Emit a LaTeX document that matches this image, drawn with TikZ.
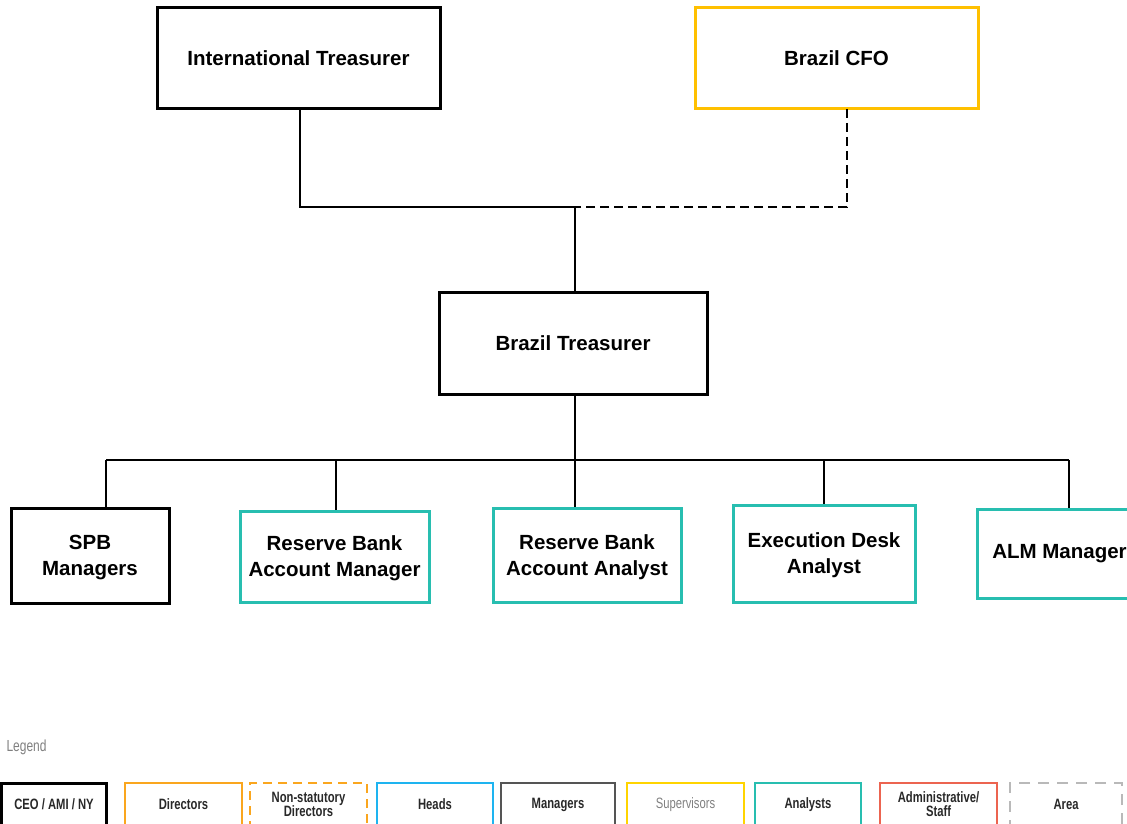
\documentclass[tikz,border=0pt]{standalone}
\usepackage{fontspec}
\setmainfont{Liberation Sans}
\newfontfamily\narrowfont[FakeStretch=0.75]{Liberation Sans}
\definecolor{cfogold}{RGB}{255,192,0}
\definecolor{tealc}{RGB}{40,190,176}
\definecolor{dirorange}{RGB}{250,166,30}
\definecolor{headblue}{RGB}{30,180,240}
\definecolor{mgrgray}{RGB}{85,85,85}
\definecolor{supyellow}{RGB}{255,212,0}
\definecolor{admred}{RGB}{236,100,80}
\definecolor{areagray}{RGB}{185,185,185}
\definecolor{legtext}{RGB}{40,40,40}
\tikzset{
  box/.style={draw, rectangle, line width=3pt, inner sep=0pt, align=center,
    font=\fontsize{20.5}{26}\selectfont\bfseries},
  blackbox/.style={box, draw=black},
  goldbox/.style={box, draw=cfogold},
  tealbox/.style={box, draw=tealc},
  lowtext/.style={text depth=-2pt},
  conn/.style={line width=1.4pt, draw=black},
  dconn/.style={conn, dash pattern=on 9pt off 5pt},
  legbox/.style={draw, rectangle, line width=2.5pt, inner sep=0pt, align=center,
    minimum height=43pt, text=legtext,
    font=\narrowfont\fontsize{15}{17}\selectfont\bfseries},
}
\begin{document}
\begin{tikzpicture}[x=1pt,y=-1pt]
\useasboundingbox (0,0) rectangle (1127,824);
% top level
\node[blackbox, minimum width=283pt, minimum height=101pt] (IT) at (298.5,58.5) {International Treasurer};
\node[goldbox, minimum width=283pt, minimum height=101pt] (CFO) at (836.5,58.5) {Brazil CFO};
\node[blackbox, minimum width=268pt, minimum height=102pt] (BT) at (573,343) {Brazil Treasurer};
% bottom level
\node[blackbox, minimum width=158pt, minimum height=95pt, lowtext] (SPB) at (90,555.5) {SPB\\Managers};
\node[tealbox, minimum width=189pt, minimum height=91pt, lowtext] (RBAM) at (334.5,556.5) {Reserve Bank\\Account Manager};
\node[tealbox, minimum width=188pt, minimum height=94pt, lowtext] (RBAA) at (587,555) {Reserve Bank\\Account Analyst};
\node[tealbox, minimum width=182pt, minimum height=97pt, lowtext] (EDA) at (824,553.5) {Execution Desk\\Analyst};
\node[tealbox, minimum width=165pt, minimum height=89pt] (ALM) at (1059.5,553.5) {ALM Manager};
% connectors top
\coordinate (j1) at (575,207);
\coordinate (cfoj) at (847,109);
\draw[conn] (IT.south -| 300,0) |- (j1);
\draw[dconn] (cfoj) |- (j1);
\draw[conn] (j1) -- (j1 |- BT.north);
% connectors bottom
\coordinate (b1) at (106,460);
\coordinate (b2) at (336,460);
\coordinate (b3) at (575,460);
\coordinate (b4) at (824,460);
\coordinate (b5) at (1069,460);
\draw[conn] (b1) -- (b5);
\draw[conn] (b3 |- BT.south) -- (b3);
\draw[conn] (b1) -- (b1 |- SPB.north);
\draw[conn] (b2) -- (b2 |- RBAM.north);
\draw[conn] (b3) -- (b3 |- RBAA.north);
\draw[conn] (b4) -- (b4 |- EDA.north);
\draw[conn] (b5) -- (b5 |- ALM.north);
% legend
\node[text=gray, font=\narrowfont\fontsize{16}{19}\selectfont, anchor=west] (leg) at (3,747) {Legend};
\node[legbox, draw=black, line width=3pt, minimum width=105pt] (l1) at (54,804.5) {CEO / AMI / NY};
\node[legbox, draw=dirorange, minimum width=117pt] (l2) at (183.5,804.5) {Directors};
\node[legbox, draw=dirorange, dash pattern=on 9pt off 6pt, minimum width=117pt] (l3) at (308.5,804.5) {Non-statutory\\[-3pt]Directors};
\node[legbox, draw=headblue, minimum width=116pt] (l4) at (435,804.5) {Heads};
\node[legbox, draw=mgrgray, minimum width=114pt] (l5) at (558,804.5) {Managers};
\node[legbox, draw=supyellow, minimum width=117pt, text=gray, font=\narrowfont\fontsize{15}{17}\selectfont] (l6) at (685.5,804.5) {Supervisors};
\node[legbox, draw=tealc, minimum width=106pt] (l7) at (808,804.5) {Analysts};
\node[legbox, draw=admred, minimum width=117pt] (l8) at (938.5,804.5) {Administrative/\\[-3pt]Staff};
\node[legbox, draw=areagray, dash pattern=on 11pt off 8pt, minimum width=112pt] (l9) at (1066,804.5) {Area};
\end{tikzpicture}
\end{document}
